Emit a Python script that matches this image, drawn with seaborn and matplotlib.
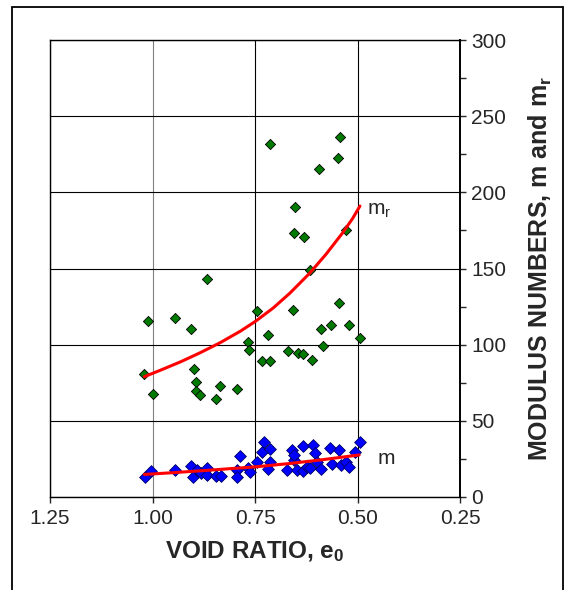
import numpy as np
import pandas as pd
import seaborn as sns
import matplotlib.pyplot as plt
from matplotlib.patches import Rectangle
from matplotlib.ticker import MultipleLocator, FixedLocator

# m_r data (green)
e_mr = [1.020, 1.012, 1.000, 0.945, 0.906, 0.900, 0.895, 0.895, 0.885, 0.868,
        0.845, 0.835, 0.794, 0.766, 0.764, 0.744, 0.734, 0.718, 0.713, 0.713,
        0.669, 0.657, 0.656, 0.653, 0.646, 0.632, 0.630, 0.616, 0.610, 0.594,
        0.588, 0.585, 0.565, 0.548, 0.545, 0.543, 0.528, 0.520, 0.493]
mr = [80.5, 115.6, 67.8, 117.8, 110.0, 83.9, 75.6, 69.3, 67.1, 143.2,
      64.1, 72.7, 71.2, 101.7, 96.6, 122.0, 89.0, 106.6, 231.7, 89.5,
      96.1, 122.9, 173.4, 190.2, 94.4, 93.9, 170.5, 148.8, 90.2, 215.6,
      110.5, 98.8, 113.2, 222.7, 127.1, 236.6, 175.6, 113.2, 104.4]

# m data (blue)
e_m = [1.019, 1.004, 0.945, 0.907, 0.902, 0.892, 0.881, 0.868, 0.868, 0.844,
       0.833, 0.795, 0.794, 0.786, 0.768, 0.763, 0.744, 0.734, 0.729, 0.713,
       0.714, 0.719, 0.672, 0.659, 0.655, 0.656, 0.648, 0.633, 0.632, 0.624,
       0.616, 0.609, 0.603, 0.598, 0.588, 0.566, 0.562, 0.545, 0.541, 0.527,
       0.520, 0.506, 0.494]
m = [13.4, 17.0, 17.8, 20.5, 13.4, 17.8, 15.6, 19.2, 14.3, 13.9,
     13.9, 17.8, 13.0, 26.7, 19.2, 16.1, 23.1, 29.3, 36.3, 31.5,
     22.7, 18.7, 17.8, 31.1, 24.4, 27.5, 17.8, 33.7, 17.0, 20.0,
     19.2, 34.1, 28.9, 23.1, 18.7, 32.4, 21.8, 31.1, 20.9, 23.1,
     20.0, 29.7, 35.9]

# fitted curves
curve_e_mr = [1.020, 0.980, 0.931, 0.883, 0.835, 0.786, 0.749, 0.706, 0.665,
              0.617, 0.577, 0.536, 0.512, 0.494]
curve_mr = [79.0, 83.3, 88.8, 94.8, 101.3, 108.8, 115.3, 124.0, 133.8,
            146.8, 159.3, 173.5, 182.8, 191.0]
curve_e_m = [1.020, 0.948, 0.867, 0.749, 0.665, 0.585, 0.496]
curve_m = [14.8, 16.0, 17.5, 19.8, 22.0, 24.5, 27.6]

x_ticks = [1.25, 1.00, 0.75, 0.50, 0.25]
x_ticklabels = ["1.25", "1.00", "0.75", "0.50", "0.25"]

sns.set_style("white")
plt.rcParams["font.family"] = ["Liberation Sans", "DejaVu Sans"]
plt.rcParams["mathtext.fontset"] = "custom"
plt.rcParams["mathtext.rm"] = "Liberation Sans"
plt.rcParams["mathtext.bf"] = "Liberation Sans:bold"
plt.rcParams["mathtext.it"] = "Liberation Sans:italic"

df_mr = pd.DataFrame({"e": e_mr, "val": mr})
df_m = pd.DataFrame({"e": e_m, "val": m})
df_cmr = pd.DataFrame({"e": curve_e_mr, "val": curve_mr})
df_cm = pd.DataFrame({"e": curve_e_m, "val": curve_m})

fig = plt.figure(figsize=(5.67, 5.90), dpi=100)
ax = fig.add_axes([50 / 567, 93 / 590, 410 / 567, 457 / 590])

# outer frame
fig.patches.append(Rectangle((12 / 567, -0.05), 551 / 567, 1.05 - 7 / 590,
                             transform=fig.transFigure, fill=False,
                             edgecolor="black", linewidth=1.3))

sns.scatterplot(data=df_mr, x="e", y="val", marker="D", s=27, color="#007A00",
                edgecolor="black", linewidth=0.6, ax=ax, zorder=3)
sns.scatterplot(data=df_m, x="e", y="val", marker="D", s=36, color="#0000FF",
                edgecolor="#000060", linewidth=0.6, ax=ax, zorder=3)
sns.lineplot(data=df_cmr, x="e", y="val", color="#FF0000", linewidth=2.2, ax=ax, zorder=4)
sns.lineplot(data=df_cm, x="e", y="val", color="#FF0000", linewidth=2.2, ax=ax, zorder=4)

ax.set_xlim(1.25, 0.25)
ax.set_ylim(0, 300)
ax.xaxis.set_major_locator(FixedLocator(x_ticks))
ax.set_xticklabels(x_ticklabels)
ax.yaxis.set_major_locator(MultipleLocator(50))
ax.yaxis.set_minor_locator(MultipleLocator(25))
ax.yaxis.tick_right()
ax.yaxis.set_label_position("right")

ax.grid(True, which="major", color="black", linewidth=0.8)
ax.get_xgridlines()[1].set_color("#808080")
for sp in ax.spines.values():
    sp.set_visible(True)
    sp.set_color("black")
    sp.set_linewidth(1.0)
ax.spines["right"].set_linewidth(1.4)

ax.tick_params(axis="x", direction="out", length=4, width=1, labelsize=15, pad=5, bottom=True)
ax.tick_params(axis="y", which="both", direction="out", length=4, width=1,
               labelsize=15, pad=4, right=True, left=False)

ax.set_xlabel(r"VOID RATIO, e$_\mathbf{0}$", fontsize=17.5, fontweight="bold", labelpad=8)
ax.set_ylabel(r"MODULUS NUMBERS, m and m$_\mathbf{r}$", fontsize=18,
              fontweight="bold", labelpad=15)

ax.text(0.478, 188, r"m$_\mathregular{r}$", fontsize=15, va="center", ha="left")
ax.text(0.45, 25, "m", fontsize=15, va="center", ha="left")

fig.savefig("out.png", dpi=100)
